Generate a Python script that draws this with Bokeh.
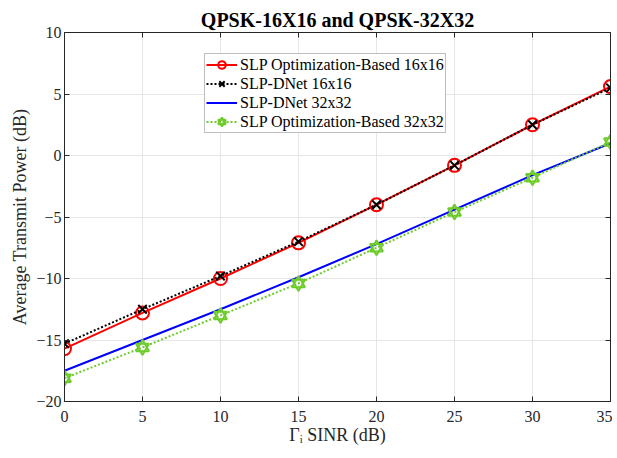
from bokeh.plotting import figure
from bokeh.models import LinearAxis, Range1d, Legend, LegendItem, FixedTicker
from bokeh.embed import file_html
from bokeh.resources import INLINE

sinr = [0, 5, 10, 15, 20, 25, 30, 35]
opt16 = [-15.7, -12.8, -10.0, -7.1, -4.0, -0.8, 2.5, 5.6]
dnet16 = [-15.3, -12.5, -9.8, -7.0, -4.0, -0.8, 2.5, 5.5]
dnet32 = [-17.5, -15.0, -12.5, -9.9, -7.2, -4.4, -1.6, 1.0]
opt32 = [-18.1, -15.6, -13.0, -10.4, -7.5, -4.6, -1.8, 1.1]

x_ticks = [0, 5, 10, 15, 20, 25, 30, 35]
y_ticks = [-20, -15, -10, -5, 0, 5, 10]

FONT = "Liberation Serif"
GREEN = "#6dcc2a"

p = figure(width=612, height=456, output_backend="svg", toolbar_location=None,
           x_range=Range1d(0, 35), y_range=Range1d(-20, 10),
           min_border_left=64, min_border_top=32, min_border_bottom=55, min_border_right=2,
           title="QPSK-16X16 and QPSK-32X32")
p.title.align = "center"
p.title.text_font = FONT
p.title.text_font_size = "20px"
p.title.text_font_style = "bold"
p.title.text_color = "black"
p.title.standoff = 3
p.outline_line_color = None

p.xaxis.ticker = FixedTicker(ticks=x_ticks)
p.yaxis.ticker = FixedTicker(ticks=y_ticks)
for ax in (p.xaxis[0], p.yaxis[0]):
    ax.major_tick_in = 5
    ax.major_tick_out = 0
    ax.minor_tick_line_color = None
    ax.axis_line_color = "#262626"
    ax.major_tick_line_color = "#262626"
    ax.major_label_text_font = FONT
    ax.major_label_text_font_size = "16px"
    ax.major_label_text_color = "#262626"
    ax.axis_label_text_font = FONT
    ax.axis_label_text_font_size = "18px"
    ax.axis_label_text_font_style = "normal"
    ax.axis_label_text_color = "#262626"
p.xaxis.axis_label = "Γᵢ SINR (dB)"
p.yaxis.axis_label = "Average Transmit Power (dB)"
p.xaxis.major_label_standoff = 9
p.xaxis.axis_label_standoff = 0
p.yaxis.major_label_standoff = 3
p.yaxis.axis_label_standoff = 3

for loc, tk in (("above", x_ticks), ("right", y_ticks)):
    ax = LinearAxis(ticker=FixedTicker(ticks=tk), major_tick_in=5, major_tick_out=0,
                    minor_tick_line_color=None, axis_line_color="#262626",
                    major_tick_line_color="#262626", major_label_text_font_size="1px",
                    major_label_text_color=None, major_label_text_alpha=0,
                    major_label_standoff=0, axis_label=None)
    p.add_layout(ax, loc)

p.xgrid.ticker = FixedTicker(ticks=x_ticks)
p.ygrid.ticker = FixedTicker(ticks=y_ticks)
p.grid.grid_line_color = "#e6e6e6"
p.grid.grid_line_width = 1

r1l = p.line(sinr, opt16, line_color="red", line_width=2)
r1m = p.scatter(sinr, opt16, marker="circle", size=13, fill_color=None, line_color="red", line_width=2)
r2l = p.line(sinr, dnet16, line_color="black", line_width=2, line_dash="2 2")
r2m = p.scatter(sinr, dnet16, marker="x", size=12, line_color="black", line_width=2)
r3l = p.line(sinr, dnet32, line_color="#0000ff", line_width=2)
r4l = p.line(sinr, opt32, line_color=GREEN, line_width=2, line_dash="2 2")
r4a = p.scatter(sinr, opt32, marker="triangle", size=13, fill_color=None, line_color=GREEN, line_width=2)
r4b = p.scatter(sinr, opt32, marker="inverted_triangle", size=13, fill_color=None, line_color=GREEN, line_width=2)

legend = Legend(items=[
    LegendItem(label="SLP Optimization-Based 16x16", renderers=[r1l, r1m]),
    LegendItem(label="SLP-DNet 16x16", renderers=[r2l, r2m]),
    LegendItem(label="SLP-DNet 32x32", renderers=[r3l]),
    LegendItem(label="SLP Optimization-Based 32x32", renderers=[r4l, r4a, r4b]),
], location=(140, 268))
legend.label_text_font = FONT
legend.label_text_font_size = "16px"
legend.label_text_color = "black"
legend.label_height = 19
legend.glyph_height = 19
legend.glyph_width = 31
legend.label_standoff = 3
legend.spacing = 0
legend.padding = 1
legend.margin = 0
legend.border_line_color = "#808080"
legend.border_line_width = 1
legend.background_fill_color = "white"
legend.background_fill_alpha = 1
p.add_layout(legend, "center")

open("out.html", "w").write(file_html(p, INLINE))
